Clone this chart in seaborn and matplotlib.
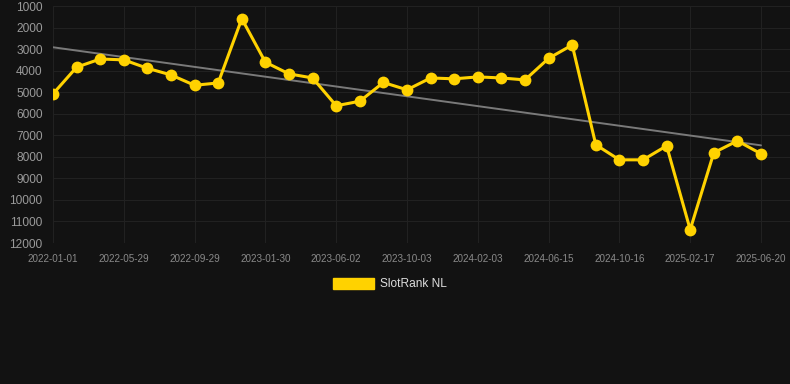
import numpy as np
import pandas as pd
import matplotlib
matplotlib.use("Agg")
import matplotlib.pyplot as plt
from matplotlib.patches import Patch
import seaborn as sns

# rank values, one point about every 6 weeks
rank = [5080, 3840, 3460, 3500, 3890, 4200, 4680, 4570, 1590, 3610,
        4150, 4340, 5630, 5420, 4550, 4890, 4340, 4380, 4290, 4340,
        4430, 3430, 2810, 7440, 8140, 8140, 7490, 11380, 7810, 7260,
        7860]
tick_labels = ["2022-01-01", "2022-05-29", "2022-09-29", "2023-01-30",
               "2023-06-02", "2023-10-03", "2024-02-03", "2024-06-15",
               "2024-10-16", "2025-02-17", "2025-06-20"]
y_ticks = [1000, 2000, 3000, 4000, 5000, 6000, 7000, 8000, 9000,
           10000, 11000, 12000]

bg = "#121212"
yellow = "#FFD200"

df = pd.DataFrame({"idx": np.arange(len(rank)), "rank": rank})
coef = np.polyfit(df["idx"], df["rank"], 1)
df["trend"] = np.polyval(coef, df["idx"])

sns.set_style("dark")
plt.rcParams["font.family"] = ["Liberation Sans", "DejaVu Sans"]
fig = plt.figure(figsize=(7.9, 3.84), dpi=100, facecolor=bg)
ax = fig.add_axes([53 / 790, (384 - 243) / 384, (790 - 53) / 790, 237 / 384])
ax.set_facecolor(bg)

sns.lineplot(data=df, x="idx", y="trend", ax=ax, color="#7a7a7a", linewidth=1.4)
sns.lineplot(data=df, x="idx", y="rank", ax=ax, color=yellow, linewidth=2.2,
             marker="o", markersize=8.5, markeredgewidth=0)

ax.set_xlim(0, 30 + 29 / 23.6)
ax.set_ylim(12000, 1000)
ax.set_xticks(np.arange(0, 31, 3))
ax.set_xticklabels(tick_labels)
ax.set_yticks(y_ticks)
ax.set_yticklabels([str(v) for v in y_ticks])
ax.set_xlabel("")
ax.set_ylabel("")
ax.grid(True, color="#212121", linewidth=0.8)
for s in ax.spines.values():
    s.set_visible(False)
ax.tick_params(axis="y", colors="#212121", length=6.5, labelcolor="#9a9a9a",
               labelsize=8.6, pad=1)
ax.tick_params(axis="x", colors="#212121", length=0, labelcolor="#8a8a8a",
               labelsize=7.1, pad=8)

fig.legend(handles=[Patch(facecolor=yellow, edgecolor=yellow, label="SlotRank NL")],
           loc="center", bbox_to_anchor=(390 / 790, 1 - 284 / 384), frameon=False,
           labelcolor="#dddddd", fontsize=8.6, handlelength=3.4, handleheight=1.1,
           handletextpad=0.5)

fig.savefig("out.png", dpi=100, facecolor=bg)
